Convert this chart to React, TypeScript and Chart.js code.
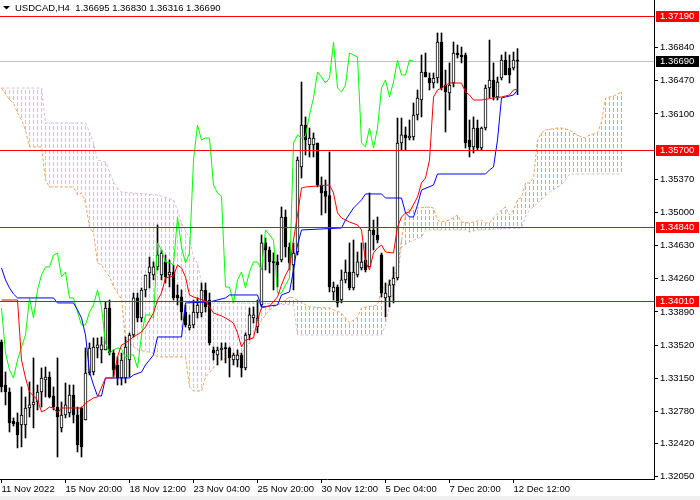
import { useEffect, useRef } from 'react';
import { Chart, registerables } from 'chart.js';

Chart.register(...registerables);

const symbol = 'USDCAD,H4';

// H4 candles, bar 0 = 11 Nov 2022, bar 129 = 12 Dec 16:00
const open = [
  1.33554, 1.33074, 1.32996, 1.32672, 1.32661, 1.32627, 1.32627, 1.32817, 1.32851, 1.32884,
  1.32996, 1.33130, 1.33163, 1.32951, 1.32828, 1.32594, 1.32739, 1.32761, 1.32962, 1.32739,
  1.32817, 1.32683, 1.33208, 1.33219, 1.33487, 1.33465, 1.33465, 1.33934, 1.33431, 1.33297,
  1.33152, 1.33152, 1.33353, 1.33632, 1.34046, 1.33822, 1.34135, 1.34325, 1.34302, 1.34392,
  1.34302, 1.34448, 1.34302, 1.34336, 1.34079, 1.34057, 1.33889, 1.33711, 1.33744, 1.33878,
  1.33878, 1.34135, 1.34023, 1.33465, 1.33409, 1.33465, 1.33487, 1.33487, 1.33353, 1.33353,
  1.33409, 1.33264, 1.33632, 1.33822, 1.33722, 1.33967, 1.34660, 1.34581, 1.34448, 1.34448,
  1.34470, 1.34950, 1.34615, 1.34414, 1.34559, 1.35508, 1.35977, 1.35754, 1.35754, 1.35776,
  1.35307, 1.35240, 1.35190, 1.34113, 1.34168, 1.34023, 1.34247, 1.34336, 1.34157, 1.34302,
  1.34381, 1.34470, 1.34392, 1.34805, 1.34749, 1.34526, 1.34046, 1.34057, 1.34191, 1.34269,
  1.35776, 1.35866, 1.35832, 1.35843, 1.36089, 1.36256, 1.36569, 1.36502, 1.36446, 1.36502,
  1.36904, 1.36424, 1.36335, 1.36446, 1.36781, 1.36759, 1.36759, 1.35810, 1.35732, 1.35944,
  1.35720, 1.35944, 1.36390, 1.36480, 1.36290, 1.36502, 1.36703, 1.36614, 1.36614, 1.36695,
];
const high = [
  1.33577, 1.33219, 1.33041, 1.32706, 1.32761, 1.33052, 1.32940, 1.33108, 1.33376, 1.33074,
  1.33264, 1.33275, 1.33219, 1.33052, 1.33376, 1.32884, 1.33096, 1.33074, 1.33074, 1.32828,
  1.32828, 1.33487, 1.33543, 1.33599, 1.33599, 1.33610, 1.34001, 1.34023, 1.33465, 1.33387,
  1.33431, 1.33610, 1.33655, 1.34101, 1.34101, 1.34157, 1.34302, 1.34503, 1.34448, 1.34861,
  1.34581, 1.34526, 1.34470, 1.34414, 1.34191, 1.34135, 1.33967, 1.33856, 1.34023, 1.34046,
  1.34213, 1.34213, 1.34101, 1.33498, 1.33498, 1.33543, 1.33543, 1.33498, 1.33431, 1.33465,
  1.33431, 1.33655, 1.33934, 1.33945, 1.34023, 1.34749, 1.34715, 1.34615, 1.34548, 1.34526,
  1.35062, 1.35028, 1.34660, 1.34660, 1.35620, 1.36457, 1.36067, 1.35944, 1.35888, 1.35776,
  1.35397, 1.35363, 1.35676, 1.34224, 1.34191, 1.34358, 1.34470, 1.34660, 1.34693, 1.34559,
  1.34660, 1.34660, 1.35218, 1.34916, 1.34950, 1.34548, 1.34213, 1.34247, 1.34392, 1.36055,
  1.36055, 1.35955, 1.36033, 1.36223, 1.36368, 1.36759, 1.36781, 1.36558, 1.36558, 1.37005,
  1.37005, 1.36591, 1.36670, 1.36904, 1.36871, 1.36848, 1.36781, 1.36033, 1.36067, 1.36033,
  1.35955, 1.36424, 1.36926, 1.36670, 1.36513, 1.36759, 1.36792, 1.36759, 1.36792, 1.36830,
];
const low = [
  1.32996, 1.32851, 1.32549, 1.32616, 1.32371, 1.32382, 1.32482, 1.32717, 1.32594, 1.32795,
  1.32828, 1.32940, 1.32929, 1.32795, 1.32270, 1.32549, 1.32706, 1.32717, 1.32650, 1.32326,
  1.32270, 1.32683, 1.33186, 1.33186, 1.33376, 1.33320, 1.33465, 1.33409, 1.33163, 1.33074,
  1.33074, 1.33096, 1.33163, 1.33610, 1.33778, 1.33778, 1.34057, 1.34157, 1.34247, 1.34358,
  1.34247, 1.34213, 1.34168, 1.34023, 1.33967, 1.33800, 1.33722, 1.33688, 1.33711, 1.33822,
  1.33833, 1.33889, 1.33521, 1.33353, 1.33297, 1.33353, 1.33320, 1.33163, 1.33297, 1.33275,
  1.33163, 1.33242, 1.33577, 1.33766, 1.33655, 1.33945, 1.34358, 1.34325, 1.34135, 1.34168,
  1.34448, 1.34503, 1.34358, 1.34135, 1.34526, 1.35385, 1.35642, 1.35620, 1.35620, 1.35285,
  1.34972, 1.34995, 1.34113, 1.34023, 1.33945, 1.33990, 1.34213, 1.34135, 1.34135, 1.34280,
  1.34358, 1.34336, 1.34392, 1.34581, 1.34660, 1.34057, 1.33833, 1.33945, 1.33990, 1.34247,
  1.35698, 1.35698, 1.35810, 1.35810, 1.36033, 1.36067, 1.36513, 1.36368, 1.36390, 1.36446,
  1.36368, 1.35899, 1.36145, 1.36402, 1.36725, 1.36670, 1.35720, 1.35620, 1.35665, 1.35698,
  1.35698, 1.35921, 1.36279, 1.36256, 1.36256, 1.36480, 1.36536, 1.36446, 1.36591, 1.36316,
];
const close = [
  1.33052, 1.32996, 1.32650, 1.32639, 1.32516, 1.32739, 1.32817, 1.32851, 1.32884, 1.32996,
  1.33152, 1.33163, 1.32940, 1.32828, 1.32717, 1.32739, 1.32851, 1.32962, 1.32739, 1.32404,
  1.32382, 1.33208, 1.33487, 1.33498, 1.33521, 1.33521, 1.33934, 1.33431, 1.33242, 1.33152,
  1.33353, 1.33498, 1.33632, 1.34046, 1.33822, 1.34135, 1.34302, 1.34392, 1.34392, 1.34526,
  1.34548, 1.34280, 1.34336, 1.34046, 1.34046, 1.33889, 1.33744, 1.33744, 1.33889, 1.33967,
  1.34135, 1.33945, 1.33543, 1.33431, 1.33465, 1.33487, 1.33480, 1.33376, 1.33409, 1.33409,
  1.33264, 1.33632, 1.33856, 1.33856, 1.33822, 1.34660, 1.34581, 1.34448, 1.34440, 1.34414,
  1.34950, 1.34615, 1.34436, 1.34548, 1.35586, 1.35977, 1.35810, 1.35832, 1.35832, 1.35307,
  1.35218, 1.35180, 1.34168, 1.34168, 1.33990, 1.34247, 1.34336, 1.34157, 1.34336, 1.34448,
  1.34448, 1.34358, 1.34805, 1.34749, 1.34693, 1.34101, 1.34101, 1.34191, 1.34269, 1.35776,
  1.35866, 1.35832, 1.35854, 1.36089, 1.36279, 1.36569, 1.36513, 1.36446, 1.36502, 1.36904,
  1.36390, 1.36346, 1.36424, 1.36781, 1.36759, 1.36737, 1.35776, 1.35732, 1.35944, 1.35720,
  1.35944, 1.36390, 1.36480, 1.36290, 1.36457, 1.36703, 1.36536, 1.36536, 1.36703, 1.36690,
];

const dateTicks = [0, 16, 32, 48, 64, 80, 96, 112, 128];
const dateLabels = [
  '11 Nov 2022', '15 Nov 20:00', '18 Nov 12:00', '23 Nov 04:00', '25 Nov 20:00',
  '30 Nov 12:00', '5 Dec 04:00', '7 Dec 20:00', '12 Dec 12:00',
];
const priceTicks = [
  1.3684, 1.3647, 1.361, 1.3537, 1.35, 1.3463, 1.3426, 1.3389, 1.3352, 1.3315, 1.3278, 1.3242, 1.3205,
];
const levels = [1.3719, 1.357, 1.3484, 1.3401];

// Ichimoku (9, 26, 52), [bar, price] at the line's corners
const tenkan: [number, number][] = [
  [0, 1.34023], [4, 1.34023], [5, 1.33353], [6, 1.33152], [7, 1.32996], [9, 1.32907], [10, 1.32773],
  [11, 1.32795], [12, 1.32828], [13, 1.32817], [14, 1.32761], [15, 1.32817], [20, 1.32817], [21, 1.32873],
  [23, 1.32929], [24, 1.3294], [26, 1.33152], [28, 1.33152], [29, 1.33387], [30, 1.33521], [31, 1.33543],
  [32, 1.33577], [33, 1.3361], [35, 1.33666], [36, 1.33722], [38, 1.33878], [39, 1.34023], [40, 1.34101],
  [41, 1.34269], [42, 1.3428], [43, 1.34291], [44, 1.34414], [45, 1.34381], [46, 1.3428], [47, 1.34079],
  [48, 1.34057], [51, 1.34012], [53, 1.33878], [55, 1.33845], [56, 1.33822], [58, 1.33766], [59, 1.33655],
  [60, 1.33498], [61, 1.33577], [63, 1.33599], [64, 1.338], [65, 1.33934], [67, 1.33956], [69, 1.34057],
  [70, 1.34191], [71, 1.34302], [72, 1.34381], [73, 1.34693], [74, 1.34972], [75, 1.35274], [76, 1.35285],
  [82, 1.35307], [83, 1.35218], [84, 1.34995], [85, 1.34939], [87, 1.34894], [89, 1.34861], [90, 1.34805],
  [91, 1.34448], [92, 1.34358], [93, 1.34548], [94, 1.34604], [95, 1.34637], [96, 1.34559], [98, 1.34548],
  [99, 1.34838], [100, 1.3495], [101, 1.34995], [102, 1.35006], [104, 1.35173], [105, 1.3533], [106, 1.35385],
  [107, 1.35586], [108, 1.3629], [109, 1.36368], [110, 1.3639], [112, 1.36446], [115, 1.36446], [116, 1.36346],
  [117, 1.36312], [118, 1.36256], [120, 1.36256], [123, 1.36279], [125, 1.3629], [126, 1.36301], [127, 1.36312],
  [128, 1.36368], [129, 1.36379],
];
const kijun: [number, number][] = [
  [0, 1.34381], [1, 1.34247], [2, 1.34157], [3, 1.3409], [4, 1.34046], [13, 1.34046], [14, 1.3399],
  [18, 1.3399], [19, 1.33912], [20, 1.33822], [21, 1.33632], [22, 1.33219], [23, 1.33074], [24, 1.32951],
  [25, 1.32951], [26, 1.33152], [32, 1.33152], [33, 1.33186], [35, 1.33219], [36, 1.33297], [38, 1.33409],
  [39, 1.3361], [45, 1.3361], [46, 1.3399], [52, 1.34001], [56, 1.34046], [57, 1.34079], [64, 1.34079],
  [65, 1.33945], [69, 1.33967], [70, 1.34079], [72, 1.34113], [73, 1.34358], [74, 1.34637], [75, 1.34805],
  [85, 1.34827], [86, 1.34916], [88, 1.3505], [90, 1.3514], [91, 1.35207], [95, 1.35207], [96, 1.35162],
  [100, 1.35162], [101, 1.34995], [102, 1.3495], [103, 1.3495], [104, 1.35084], [105, 1.35251], [108, 1.35307],
  [109, 1.3543], [121, 1.3543], [122, 1.35475], [123, 1.35508], [124, 1.3581], [125, 1.36279], [128, 1.36312],
  [129, 1.36368],
];
const spanA: [number, number][] = [
  [0, 1.3639], [2, 1.36256], [3, 1.36223], [4, 1.36111], [5, 1.36033], [6, 1.35921], [7, 1.35732],
  [10, 1.35732], [11, 1.35363], [12, 1.35285], [18, 1.35285], [19, 1.35196], [20, 1.35218], [21, 1.35106],
  [22, 1.34838], [23, 1.34771], [24, 1.34436], [25, 1.34414], [27, 1.3428], [28, 1.34168], [30, 1.34034],
  [31, 1.33577], [32, 1.33543], [34, 1.33465], [38, 1.33431], [39, 1.33387], [46, 1.33387], [47, 1.33052],
  [48, 1.33007], [50, 1.33007], [51, 1.33163], [53, 1.33264], [55, 1.33353], [60, 1.33431], [62, 1.33543],
  [65, 1.338], [67, 1.33912], [68, 1.33945], [70, 1.3399], [72, 1.34057], [73, 1.34046], [77, 1.33945],
  [82, 1.33934], [85, 1.33878], [87, 1.33766], [89, 1.33833], [90, 1.33934], [94, 1.33967], [95, 1.34135],
  [97, 1.34224], [99, 1.34358], [100, 1.34693], [101, 1.34972], [102, 1.3505], [104, 1.3505], [107, 1.35062],
  [108, 1.3505], [109, 1.34916], [110, 1.34894], [112, 1.34916], [114, 1.34972], [115, 1.34894], [117, 1.34883],
  [118, 1.34894], [120, 1.34916], [121, 1.34883], [122, 1.34883], [123, 1.34939], [125, 1.35028], [126, 1.35062],
  [127, 1.34972], [128, 1.35028], [129, 1.3514], [130, 1.35173], [131, 1.3533], [132, 1.3533], [133, 1.35385],
  [134, 1.3581], [135, 1.35888], [136, 1.35921], [139, 1.35944], [140, 1.35944], [142, 1.35921], [143, 1.35888],
  [145, 1.35843], [146, 1.35832], [147, 1.35866], [149, 1.35888], [150, 1.36011], [151, 1.36279], [152, 1.3629],
  [153, 1.36301], [155, 1.36346],
];
const spanB: [number, number][] = [
  [0, 1.3639], [10, 1.3639], [11, 1.36], [21, 1.36], [22, 1.35899], [23, 1.35776], [24, 1.35586],
  [26, 1.35564], [27, 1.35452], [28, 1.35341], [29, 1.35274], [30, 1.35229], [39, 1.35196], [43, 1.3514],
  [44, 1.35028], [45, 1.34883], [47, 1.34715], [48, 1.34503], [49, 1.34436], [50, 1.34213], [51, 1.3399],
  [64, 1.3399], [73, 1.33967], [74, 1.33632], [95, 1.33632], [96, 1.33744], [97, 1.33967], [98, 1.34135],
  [99, 1.34269], [100, 1.34615], [102, 1.34671], [105, 1.34727], [106, 1.34805], [116, 1.34805], [117, 1.34782],
  [119, 1.34805], [130, 1.34827], [131, 1.3495], [132, 1.35028], [135, 1.3514], [137, 1.35229], [140, 1.35307],
  [141, 1.35363], [142, 1.3543], [155, 1.3543],
];
const chikouShift = 26;

const colors = {
  tenkan: '#FF0000',
  kijun: '#0000FF',
  chikou: '#00FF00',
  spanA: '#F4A460',
  spanB: '#D8BFD8',
  level: '#FF0000',
  bid: '#C0C0C0',
};

const font = { family: 'Liberation Sans', size: 9.5 };
const fmt = (v: number) => v.toFixed(5);
const pts = (arr: [number, number][]) => arr.map(([x, y]) => ({ x, y }));

// dotted histogram between Senkou A and B, one column per bar (MT4 style)
const cloud = {
  id: 'cloud',
  beforeDatasetsDraw(chart: any) {
    const { ctx, scales } = chart;
    const lineB = chart.getDatasetMeta(0).dataset;
    const lineA = chart.getDatasetMeta(1).dataset;
    const first = spanA[0][0];
    const last = spanA[spanA.length - 1][0];
    const at = (line: any, px: number) => {
      const p = line.interpolate({ x: px }, 'x');
      return Array.isArray(p) ? p[0] : p;
    };
    ctx.save();
    for (let i = first; i <= last; i++) {
      const px = scales.x.getPixelForValue(i);
      const a = at(lineA, px);
      const b = at(lineB, px);
      if (!a || !b) continue;
      const top = Math.round(Math.min(a.y, b.y));
      const bot = Math.round(Math.max(a.y, b.y));
      ctx.fillStyle = a.y <= b.y ? colors.spanA : colors.spanB;
      for (let y = Math.floor(top / 6) * 6; y < bot; y += 6) {
        const y0 = Math.max(y, top);
        const y1 = Math.min(y + 4, bot);
        if (y1 > y0) ctx.fillRect(Math.floor(px), y0, 1, y1 - y0);
      }
    }
    ctx.restore();
  },
};

const overlay = {
  id: 'overlay',
  beforeDatasetsDraw(chart: any) {
    const { ctx, chartArea: a, scales } = chart;
    const py = Math.round(scales.y.getPixelForValue(close[close.length - 1])) + 0.5;
    ctx.save();
    ctx.strokeStyle = colors.bid;
    ctx.lineWidth = 1;
    ctx.beginPath();
    ctx.moveTo(a.left, py);
    ctx.lineTo(a.right, py);
    ctx.stroke();
    ctx.restore();
  },
  afterDatasetsDraw(chart: any) {
    const { ctx, chartArea: a, scales } = chart;
    ctx.save();
    ctx.strokeStyle = colors.level;
    ctx.lineWidth = 1;
    levels.forEach((v) => {
      const py = Math.round(scales.y.getPixelForValue(v)) + 0.5;
      ctx.beginPath();
      ctx.moveTo(a.left, py);
      ctx.lineTo(a.right, py);
      ctx.stroke();
    });
    ctx.restore();
  },
  afterDraw(chart: any) {
    const { ctx, chartArea: a, scales } = chart;
    const n = close.length - 1;
    ctx.save();
    ctx.font = `${font.size}px "${font.family}"`;
    ctx.textBaseline = 'middle';
    const tag = (v: number, bg: string) => {
      const py = Math.round(scales.y.getPixelForValue(v));
      ctx.fillStyle = bg;
      ctx.fillRect(a.right + 2, py - 5, 43, 11);
      ctx.fillStyle = '#FFFFFF';
      ctx.fillText(fmt(v), a.right + 6, py + 0.5);
    };
    levels.forEach((v) => tag(v, colors.level));
    tag(close[n], '#000000');

    // header
    ctx.fillStyle = '#000000';
    ctx.beginPath();
    ctx.moveTo(3, 6);
    ctx.lineTo(10, 6);
    ctx.lineTo(6.5, 9.5);
    ctx.closePath();
    ctx.fill();
    ctx.fillText(`${symbol}  ${fmt(open[n])} ${fmt(high[n])} ${fmt(low[n])} ${fmt(close[n])}`, 15, 8);

    ctx.fillStyle = '#F0F0F0';
    ctx.fillRect(0, 496, chart.width, 4);
    ctx.restore();
  },
};

const CandleChart = () => {
  const canvasRef = useRef<HTMLCanvasElement>(null);

  useEffect(() => {
    if (!canvasRef.current) return;

    const chikou = close.map((c, i) => ({ x: i - chikouShift, y: c })).slice(chikouShift);

    const lineStyle = { pointRadius: 0, borderWidth: 1, tension: 0, fill: false };

    const chart = new Chart(canvasRef.current, {
      type: 'line',
      data: {
        datasets: [
          {
            type: 'line', label: 'Senkou Span B', data: pts(spanB), ...lineStyle,
            borderColor: colors.spanB, borderDash: [3, 2], order: 10,
          },
          {
            type: 'line', label: 'Senkou Span A', data: pts(spanA), ...lineStyle,
            borderColor: colors.spanA, borderDash: [3, 2], order: 9,
          },
          {
            type: 'bar', label: 'wick', data: close.map((_, i) => ({ x: i, y: [low[i], high[i]] })),
            backgroundColor: '#000000', barThickness: 1, grouped: false, order: 6,
          },
          {
            type: 'bar', label: 'body', data: close.map((c, i) => ({ x: i, y: [open[i], c] })),
            backgroundColor: (ctx: any) => (close[ctx.dataIndex] >= open[ctx.dataIndex] ? '#FFFFFF' : '#000000'),
            borderColor: '#000000', borderWidth: 1, borderSkipped: false,
            barThickness: 3, minBarLength: 1, grouped: false, order: 5,
          },
          { type: 'line', label: 'Chikou Span', data: chikou, ...lineStyle, borderColor: colors.chikou, order: 3 },
          { type: 'line', label: 'Kijun-sen', data: pts(kijun), ...lineStyle, borderColor: colors.kijun, order: 2 },
          { type: 'line', label: 'Tenkan-sen', data: pts(tenkan), ...lineStyle, borderColor: colors.tenkan, order: 1 },
        ] as any,
      },
      options: {
        animation: false,
        responsive: true,
        maintainAspectRatio: false,
        devicePixelRatio: 1,
        events: [],
        layout: { padding: 0 },
        plugins: { legend: { display: false }, tooltip: { enabled: false } },
        scales: {
          x: {
            type: 'linear',
            min: -0.375,
            max: 163.125,
            offset: false,
            afterBuildTicks: (s: any) => { s.ticks = dateTicks.map((v) => ({ value: v })); },
            afterFit: (s: any) => { s.height = 21; s.paddingLeft = 0; s.paddingRight = 0; },
            grid: { drawOnChartArea: false, drawTicks: true, tickLength: 4, color: '#000000', offset: false },
            border: { display: true, color: '#000000', width: 1 },
            ticks: {
              autoSkip: false, maxRotation: 0, minRotation: 0, align: 'start', padding: 1,
              color: '#000000', font,
              callback: (v: any) => dateLabels[dateTicks.indexOf(Number(v))] ?? '',
            },
          },
          y: {
            type: 'linear',
            position: 'right',
            min: 1.32024,
            max: 1.37373,
            afterBuildTicks: (s: any) => { s.ticks = priceTicks.map((v) => ({ value: v })); },
            afterFit: (s: any) => { s.width = 46; s.paddingTop = 0; s.paddingBottom = 0; },
            grid: { drawOnChartArea: false, drawTicks: true, tickLength: 4, color: '#000000' },
            border: { display: true, color: '#000000', width: 1 },
            ticks: { autoSkip: false, padding: 2, color: '#000000', font, callback: (v: any) => fmt(Number(v)) },
          },
        },
      } as any,
      plugins: [cloud, overlay],
    });

    return () => {
      chart.destroy();
    };
  }, []);

  return (
    <div style={{ position: 'absolute', left: 0, top: 0, width: 700, height: 500 }}>
      <canvas ref={canvasRef} />
    </div>
  );
};

export default function App() {
  return <CandleChart />;
}
